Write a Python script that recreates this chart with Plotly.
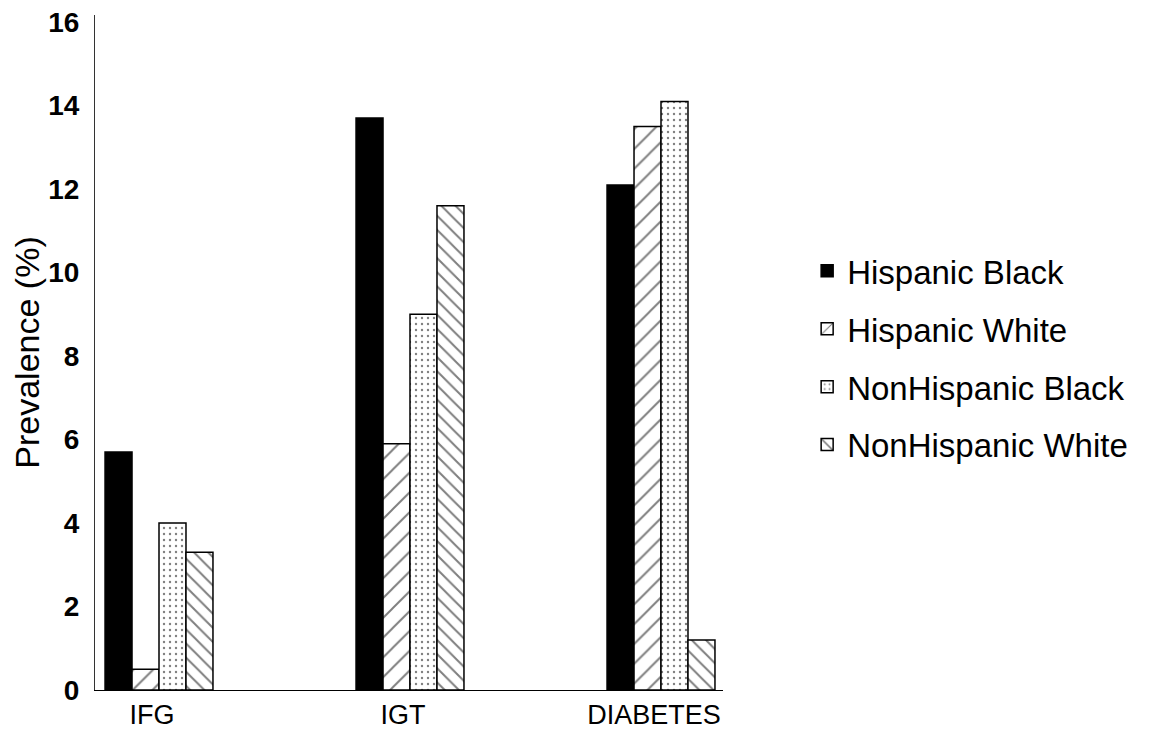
import plotly.graph_objects as go

categories = ["IFG", "IGT", "DIABETES"]
series_names = ["Hispanic Black", "Hispanic White", "NonHispanic Black", "NonHispanic White"]
hispanic_black = [5.7, 13.7, 12.1]
hispanic_white = [0.5, 5.9, 13.5]
nonhispanic_black = [4.0, 9.0, 14.1]
nonhispanic_white = [3.3, 11.6, 1.2]
y_ticks = [0, 2, 4, 6, 8, 10, 12, 14, 16]

values = [hispanic_black, hispanic_white, nonhispanic_black, nonhispanic_white]
patterns = [
    dict(shape=""),
    dict(shape="/", size=14, solidity=0.14, fgcolor="black", bgcolor="white"),
    dict(shape=".", size=6, solidity=0.12, fgcolor="black", bgcolor="white"),
    dict(shape="\\", size=10, solidity=0.2, fgcolor="black", bgcolor="white"),
]
fills = ["black", "white", "white", "white"]

fig = go.Figure()
for i, (name, vals, pat, fc) in enumerate(zip(series_names, values, patterns, fills)):
    fig.add_trace(go.Bar(
        name=name, x=categories, y=vals, legendgroup=f"g{i}",
        marker=dict(color=fc, pattern=pat, line=dict(color="black", width=1.5)),
    ))

font_family = "Liberation Sans, Arial, sans-serif"
fig.update_layout(
    barmode="group",
    bargap=0.57,
    bargroupgap=0,
    width=1150, height=728,
    margin=dict(l=87, r=435, t=7, b=46, autoexpand=False),
    paper_bgcolor="white", plot_bgcolor="white",
    font=dict(family=font_family, color="black"),
    showlegend=True,
    legend=dict(x=1.134, y=0.492, xanchor="left", yanchor="middle",
                font=dict(size=33, color="black"), tracegroupgap=12,
                bgcolor="rgba(0,0,0,0)"),
    xaxis=dict(range=[-0.255, 2.247], showline=True, linecolor="black", linewidth=1.2,
               ticks="", showgrid=False, zeroline=False, automargin=False,
               tickfont=dict(size=27), ticklabelstandoff=0, ticklabelshift=-7,
               ticklabeloverflow="allow"),
    yaxis=dict(range=[0, 16.17], tickvals=y_ticks, showline=True, linecolor="#333",
               linewidth=1.2, ticks="", showgrid=False, zeroline=False, automargin=False,
               tickfont=dict(size=28, weight="bold"), ticklabelstandoff=9,
               ticklabeloverflow="allow",
               title=dict(text="Prevalence (%)", font=dict(size=34), standoff=4)),
)

fig.write_html("out.html")
